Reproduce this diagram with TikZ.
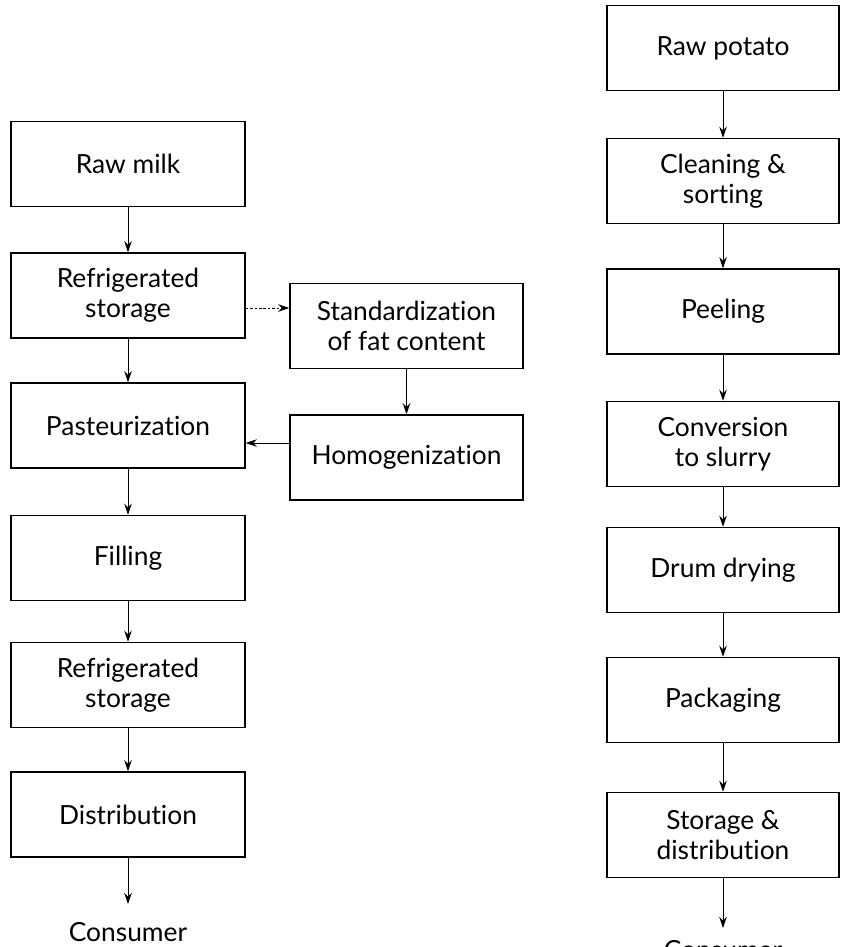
\documentclass[tikz,border=0pt]{standalone}
\usepackage{fontspec}
\setmainfont{Lato}[Ligatures={NoCommon,NoRare,NoDiscretionary}]
\usepackage{tikz}
\usetikzlibrary{arrows.meta,positioning,calc}

\begin{document}
\begin{tikzpicture}[
    x=0.02cm, y=-0.02cm,
    stage/.style={rectangle, draw, line width=0.9pt, minimum width=4.68cm, minimum height=1.7cm, align=center, font=\fontsize{15}{17}\selectfont},
    pstage/.style={stage, minimum width=4.64cm},
    endtext/.style={inner sep=0pt, font=\fontsize{15}{17}\selectfont},
    flow/.style={-{Stealth[length=2.2mm, width=1.5mm]}, line width=0.5pt}
]
\useasboundingbox (0,0) rectangle (840,947);
\clip (0,0) rectangle (840,947);

% Milk line
\node[stage] (milk) at (128, 164) {Raw milk};
\node[stage] (fridge) at (128, 295.5) {Refrigerated\\storage};
\node[stage] (past) at (128, 425.5) {Pasteurization};
\node[stage] (fill) at (128, 558) {Filling};
\node[stage] (fridgeb) at (128, 685) {Refrigerated\\storage};
\node[stage] (dist) at (128, 814.5) {Distribution};
\node[endtext] (mcons) at (128, 932) {Consumer};

% Side branch
\node[stage, minimum width=4.66cm] (std) at (406.5, 326) {Standardization\\of fat content};
\node[stage, minimum width=4.66cm] (homog) at (406.5, 457.5) {Homogenization};

% Potato line
\node[pstage] (raw) at (723, 48) {Raw potato};
\node[pstage] (clean) at (723, 181) {Cleaning \&\\sorting};
\node[pstage] (peel) at (723, 311.5) {Peeling};
\node[pstage] (slurry) at (723, 444) {Conversion\\to slurry};
\node[pstage] (drum) at (723, 570) {Drum drying};
\node[pstage] (pack) at (723, 700) {Packaging};
\node[pstage] (store) at (723, 835) {Storage \&\\distribution};
\node[endtext] (pcons) at (723, 950) {Consumer};

% Milk arrows
\draw[flow] (milk) -- (fridge);
\draw[flow] (fridge) -- (past);
\draw[flow] (past) -- (fill);
\draw[flow] (fill) -- (fridgeb);
\draw[flow] (fridgeb) -- (dist);
\draw[flow] (dist) -- ([yshift=0.36cm]mcons.north);
\draw[flow, dash pattern=on 1.5pt off 1pt] ([yshift=-0.25cm]fridge.east) -- ([yshift=-0.25cm]fridge.east -| std.west);
\draw[flow] (std) -- (homog);
\draw[flow] ([yshift=0.29cm]homog.west) -- ([yshift=0.29cm]homog.west -| past.east);

% Potato arrows
\draw[flow] (raw) -- (clean);
\draw[flow] (clean) -- (peel);
\draw[flow] (peel) -- (slurry);
\draw[flow] (slurry) -- (drum);
\draw[flow] (drum) -- (pack);
\draw[flow] (pack) -- (store);
\draw[flow] (store) -- ([yshift=0.24cm]pcons.north);

\end{tikzpicture}
\end{document}
